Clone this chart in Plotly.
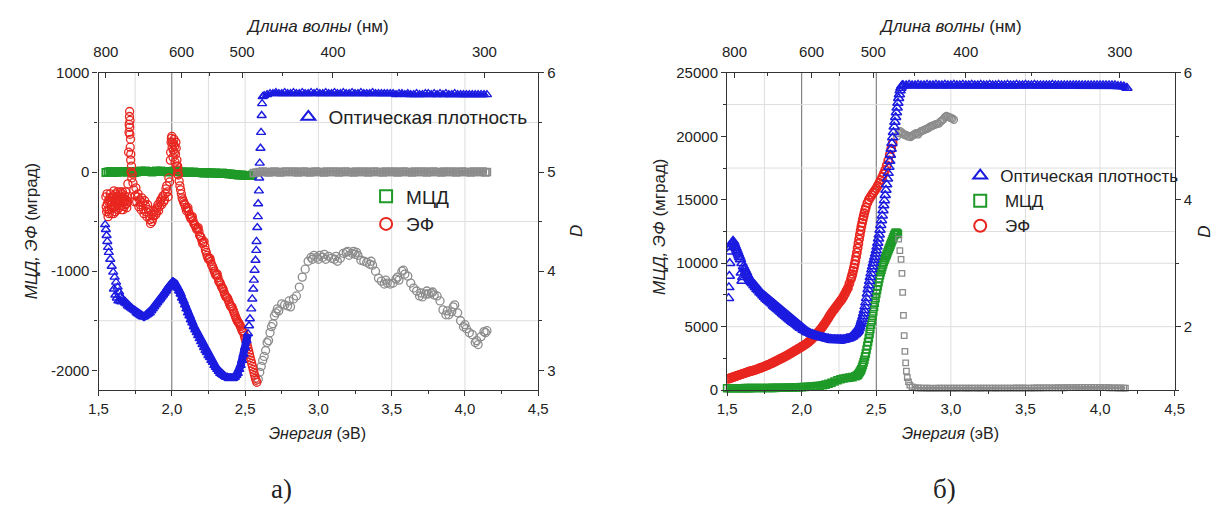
import plotly.graph_objects as go

FONT = "Liberation Sans, Arial, sans-serif"
W, H = 1224, 522

# ======================= Panel а) =======================
# optical density D (right axis): dense part, steep edge, saturated plateau
a_od_energy = [1.545, 1.55, 1.555, 1.56, 1.565, 1.57, 1.58, 1.59, 1.60, 1.605, 1.61, 1.615, 1.62, 1.625,
               1.63, 1.635, 1.64, 1.645, 1.65, 1.655, 1.66, 1.67, 1.68, 1.69, 1.70, 1.71, 1.72, 1.73,
               1.74, 1.75, 1.76, 1.77, 1.78, 1.79, 1.80, 1.81, 1.82, 1.83, 1.84, 1.85, 1.86, 1.87,
               1.88, 1.89, 1.90, 1.91, 1.92, 1.93, 1.94, 1.95, 1.96, 1.97, 1.98, 1.99, 2.00, 2.01,
               2.02, 2.03, 2.04, 2.05, 2.06, 2.07, 2.08, 2.09, 2.10, 2.11, 2.12, 2.13, 2.14, 2.15,
               2.16, 2.17, 2.18, 2.19, 2.20, 2.21, 2.22, 2.23, 2.24, 2.25, 2.26, 2.27, 2.28, 2.29,
               2.30, 2.31, 2.32, 2.33, 2.34, 2.35, 2.36, 2.37, 2.38, 2.39, 2.40, 2.41, 2.42, 2.43,
               2.44, 2.45, 2.46, 2.47, 2.48, 2.49, 2.50, 2.51, 2.52,
               2.527, 2.533, 2.542, 2.549, 2.556, 2.560, 2.565, 2.571, 2.576, 2.578, 2.583, 2.587,
               2.589, 2.594, 2.596, 2.600, 2.605, 2.609, 2.613, 2.616, 2.620,
               2.63, 2.65, 2.67, 2.69, 2.71, 2.73, 2.75, 2.77, 2.79, 2.81, 2.83, 2.85, 2.87, 2.89,
               2.91, 2.93, 2.95, 2.97, 2.99, 3.01, 3.03, 3.05, 3.07, 3.09, 3.11, 3.13, 3.15, 3.17,
               3.19, 3.21, 3.23, 3.25, 3.27, 3.29, 3.31, 3.33, 3.35, 3.37, 3.39, 3.41, 3.43, 3.45,
               3.47, 3.49, 3.51, 3.53, 3.55, 3.57, 3.59, 3.61, 3.63, 3.65, 3.67, 3.69, 3.71, 3.73,
               3.75, 3.77, 3.79, 3.81, 3.83, 3.85, 3.87, 3.89, 3.91, 3.93, 3.95, 3.97, 3.99, 4.01,
               4.03, 4.05, 4.07, 4.09, 4.11, 4.13, 4.15]
a_od_D = [4.47, 4.42, 4.36, 4.30, 4.24, 4.19, 4.12, 4.05, 3.99, 3.82, 3.94, 3.76, 3.89, 3.73,
          3.84, 3.70, 3.79, 3.70, 3.75, 3.69, 3.72, 3.70, 3.68, 3.67, 3.65, 3.64, 3.63, 3.62,
          3.61, 3.60, 3.58, 3.57, 3.56, 3.55, 3.54, 3.54, 3.55, 3.56, 3.57, 3.58, 3.60, 3.62,
          3.64, 3.66, 3.68, 3.70, 3.72, 3.74, 3.76, 3.78, 3.80, 3.83, 3.85, 3.87, 3.88, 3.89,
          3.88, 3.86, 3.83, 3.80, 3.77, 3.73, 3.70, 3.66, 3.62, 3.58, 3.55, 3.51, 3.48, 3.44,
          3.41, 3.38, 3.35, 3.32, 3.29, 3.26, 3.23, 3.20, 3.18, 3.15, 3.13, 3.10, 3.08, 3.05,
          3.03, 3.01, 2.99, 2.97, 2.96, 2.95, 2.94, 2.93, 2.93, 2.92, 2.92, 2.92, 2.92, 2.93,
          2.95, 2.97, 3.01, 3.05, 3.10, 3.16, 3.23, 3.30, 3.37,
          3.45, 3.52, 3.62, 3.72, 3.82, 3.91, 4.01, 4.11, 4.21, 4.30, 4.44, 4.55,
          4.68, 4.81, 4.94, 5.09, 5.24, 5.40, 5.57, 5.69, 5.76,
          5.77, 5.78, 5.79, 5.79, 5.80, 5.79, 5.79, 5.80, 5.79, 5.79, 5.80, 5.79, 5.79, 5.80,
          5.79, 5.79, 5.80, 5.79, 5.80, 5.79, 5.79, 5.80, 5.79, 5.79, 5.80, 5.79, 5.79, 5.80,
          5.79, 5.79, 5.80, 5.79, 5.79, 5.80, 5.79, 5.79, 5.79, 5.80, 5.79, 5.79, 5.79, 5.79,
          5.79, 5.79, 5.79, 5.78, 5.79, 5.79, 5.78, 5.79, 5.78, 5.78, 5.79, 5.78, 5.78, 5.79,
          5.79, 5.78, 5.79, 5.78, 5.79, 5.78, 5.79, 5.78, 5.78, 5.79, 5.78, 5.78, 5.78, 5.78,
          5.78, 5.78, 5.78, 5.78, 5.78, 5.78, 5.78]

# MCD (left axis, mdeg): reliable part (green) and unreliable part (grey)
a_mcd_energy = [1.55, 1.565, 1.58, 1.595, 1.61, 1.625, 1.64, 1.655, 1.67, 1.685, 1.70, 1.715, 1.73,
                1.745, 1.76, 1.775, 1.79, 1.805, 1.82, 1.835, 1.85, 1.865, 1.88, 1.895, 1.91, 1.925,
                1.94, 1.955, 1.97, 1.985, 2.00, 2.015, 2.03, 2.045, 2.06, 2.075, 2.09, 2.105, 2.12,
                2.135, 2.15, 2.165, 2.18, 2.195, 2.21, 2.225, 2.24, 2.255, 2.27, 2.285, 2.30, 2.315,
                2.33, 2.345, 2.36, 2.375, 2.39, 2.405, 2.42, 2.435, 2.45, 2.465, 2.48, 2.495, 2.51,
                2.525, 2.54, 2.55]
a_mcd_val = [-5, 0, 5, 0, -5, 0, 5, 0, 0, 5, 0, 5, 0, -5, 0, 5, 10, 5, 10, 5, 5, 0, 5, 10, 5, 10,
             5, 5, 0, 5, 5, 10, 5, 5, 0, 0, 0, -5, 0, -5, 0, -5, -5, -5, -10, -10, -5, -10, -10,
             -10, -10, -15, -15, -10, -15, -15, -20, -20, -25, -25, -30, -30, -30, -35, -35, -35,
             -35, -30]
a_mcd_grey_energy = [2.56, 2.58, 2.60, 2.62, 2.64, 2.66, 2.68, 2.70, 2.72, 2.74, 2.76, 2.78, 2.80,
                     2.82, 2.84, 2.86, 2.88, 2.90, 2.92, 2.94, 2.96, 2.98, 3.00, 3.02, 3.04, 3.06,
                     3.08, 3.10, 3.12, 3.14, 3.16, 3.18, 3.20, 3.22, 3.24, 3.26, 3.28, 3.30, 3.32,
                     3.34, 3.36, 3.38, 3.40, 3.42, 3.44, 3.46, 3.48, 3.50, 3.52, 3.54, 3.56, 3.58,
                     3.60, 3.62, 3.64, 3.66, 3.68, 3.70, 3.72, 3.74, 3.76, 3.78, 3.80, 3.82, 3.84,
                     3.86, 3.88, 3.90, 3.92, 3.94, 3.96, 3.98, 4.00, 4.02, 4.04, 4.06, 4.08, 4.10,
                     4.12, 4.14, 4.15]
a_mcd_grey_val = [-10, -5, 0, 5, 0, -5, 0, 5, 0, -5, 0, 5, 0, 0, 5, -5, 0, 5, 0, -5, 0, 5, 0, 0,
                  -5, 5, 0, 0, 5, -5, 0, 5, 0, 0, -5, 5, 0, 0, 5, -5, 0, 5, 0, 0, -5, 5, 0, 0, 5,
                  -5, 0, 5, 0, 0, -5, 5, 0, 0, 5, -5, 0, 5, 0, 0, -5, 5, 0, 0, 5, -5, 0, 5, 0, 0,
                  -5, 5, 0, 0, 5, -5, 0]

# Faraday effect ЭФ (left axis, mdeg)
a_ef_energy = [1.55, 1.552, 1.555, 1.558, 1.56, 1.563, 1.565, 1.568, 1.57, 1.573, 1.575, 1.578, 1.58,
               1.583, 1.585, 1.588, 1.59, 1.593, 1.595, 1.598, 1.60, 1.603, 1.605, 1.608, 1.61, 1.613,
               1.615, 1.618, 1.62, 1.623, 1.625, 1.628, 1.63, 1.633, 1.635, 1.638, 1.64, 1.643, 1.645,
               1.648, 1.65, 1.653, 1.655, 1.658, 1.66, 1.663, 1.665, 1.668, 1.67, 1.673, 1.675, 1.678,
               1.68, 1.683, 1.685, 1.688, 1.69, 1.693, 1.695, 1.698, 1.70, 1.705, 1.708, 1.709, 1.711,
               1.712, 1.713, 1.714, 1.715, 1.716, 1.718, 1.719, 1.72, 1.722, 1.725, 1.727, 1.73, 1.735,
               1.74, 1.745, 1.75, 1.755, 1.76, 1.765, 1.77, 1.775, 1.78, 1.785, 1.79, 1.795, 1.80,
               1.805, 1.81, 1.815, 1.82, 1.825, 1.83, 1.835, 1.84, 1.845, 1.85, 1.855, 1.86, 1.865,
               1.87, 1.875, 1.88, 1.885, 1.89, 1.895, 1.90, 1.905, 1.91, 1.915, 1.92, 1.925, 1.93,
               1.935, 1.94, 1.945, 1.95, 1.955, 1.96, 1.965, 1.97, 1.975, 1.98, 1.985, 1.99, 1.992,
               1.995, 1.997, 2.00, 2.002, 2.005, 2.008, 2.01, 2.012, 2.015, 2.018, 2.02, 2.022, 2.025,
               2.028, 2.03, 2.033, 2.035, 2.038, 2.04, 2.042, 2.045, 2.05, 2.055, 2.06, 2.065, 2.07,
               2.075, 2.08, 2.085, 2.09, 2.095, 2.10, 2.105, 2.11, 2.115, 2.12, 2.125, 2.13, 2.135,
               2.14, 2.145, 2.15, 2.155, 2.16, 2.165, 2.17, 2.175, 2.18, 2.185, 2.19, 2.195, 2.20,
               2.205, 2.21, 2.215, 2.22, 2.225, 2.23, 2.235, 2.24, 2.245, 2.25, 2.255, 2.26, 2.265,
               2.27, 2.275, 2.28, 2.285, 2.29, 2.295, 2.30, 2.305, 2.31, 2.315, 2.32, 2.325, 2.33,
               2.335, 2.34, 2.345, 2.35, 2.355, 2.36, 2.365, 2.37, 2.375, 2.38, 2.385, 2.39, 2.395,
               2.40, 2.405, 2.41, 2.415, 2.42, 2.425, 2.43, 2.435, 2.44, 2.445, 2.45, 2.455, 2.46,
               2.465, 2.47, 2.475, 2.48, 2.485, 2.49, 2.495, 2.50, 2.505, 2.51, 2.515, 2.52, 2.525,
               2.53, 2.535, 2.54, 2.545, 2.55, 2.555, 2.56, 2.565, 2.57, 2.575, 2.58]
a_ef_val = [-250, -350, -400, -220, -320, -380, -450, -300, -280, -420, -380, -260, -220,
            -300, -330, -370, -420, -300, -260, -240, -350, -420, -190, -280, -300, -350,
            -400, -220, -250, -290, -330, -380, -200, -250, -280, -320, -360, -290, -240,
            -200, -300, -340, -380, -260, -220, -200, -310, -380, -260, -300, -350, -240,
            -290, -330, -200, -280, -320, -360, -250, -300, -120, 200, 400, 480, 560,
            610, 450, 380, 520, 250, 330, 120, 180, 0, 60, -60, -20, -110,
            -180, -300, -240, -160, -300, -250, -220, -350, -280, -330, -380, -260, -310,
            -370, -420, -290, -340, -400, -450, -330, -380, -440, -480, -520, -430, -500,
            -470, -440, -400, -380, -430, -410, -360, -330, -390, -350, -300, -280, -330,
            -260, -240, -300, -280, -220, -170, -140, -200, -250, -60, -100, 120, 200,
            300, 340, 360, 250, 300, 150, 220, 280, 330, 200, 260, 100, 180,
            300, 240, 60, 120, -20, 60, 20, -30, -90, -140, -180, -220, -260,
            -280, -300, -320, -330, -360, -390, -370, -360, -400, -430, -450, -470, -460,
            -450, -490, -520, -530, -540, -560, -580, -570, -560, -600, -640, -650, -660,
            -690, -720, -710, -700, -750, -790, -810, -840, -860, -880, -875, -870, -900,
            -930, -945, -960, -980, -1000, -1020, -1040, -1035, -1030, -1065, -1100, -1110, -1120,
            -1140, -1160, -1170, -1180, -1205, -1230, -1245, -1260, -1265, -1270, -1290, -1310, -1330,
            -1350, -1355, -1360, -1380, -1400, -1420, -1440, -1460, -1480, -1495, -1510, -1520, -1530,
            -1545, -1560, -1580, -1600, -1610, -1620, -1650, -1680, -1700, -1720, -1750, -1780, -1810,
            -1840, -1870, -1900, -1930, -1960, -1990, -2020, -2050, -2080, -2100, -2120]
a_ef_grey_energy = [2.59, 2.60, 2.61, 2.62, 2.63, 2.64, 2.65, 2.66, 2.67, 2.68, 2.69, 2.70, 2.71,
                    2.72, 2.73, 2.75, 2.77, 2.79, 2.80, 2.81, 2.83, 2.85, 2.87, 2.89, 2.91, 2.93,
                    2.95, 2.96, 2.97, 2.99, 3.00, 3.01, 3.03, 3.04, 3.05, 3.07, 3.09, 3.11, 3.12,
                    3.13, 3.15, 3.17, 3.19, 3.20, 3.21, 3.23, 3.24, 3.25, 3.26, 3.27, 3.29, 3.31,
                    3.33, 3.35, 3.36, 3.37, 3.39, 3.41, 3.43, 3.45, 3.46, 3.47, 3.49, 3.51, 3.53,
                    3.54, 3.55, 3.57, 3.58, 3.59, 3.61, 3.63, 3.65, 3.67, 3.69, 3.70, 3.71, 3.73,
                    3.74, 3.75, 3.77, 3.78, 3.79, 3.81, 3.83, 3.85, 3.87, 3.88, 3.89, 3.91, 3.92,
                    3.93, 3.95, 3.97, 3.99, 4.00, 4.01, 4.03, 4.05, 4.07, 4.08, 4.09, 4.11, 4.13,
                    4.14, 4.15]
a_ef_grey_val = [-2090, -2020, -1960, -1900, -1860, -1800, -1720, -1700, -1620, -1560, -1530, -1450,
                 -1420, -1380, -1400, -1330, -1340, -1350, -1300, -1360, -1280, -1250, -1160, -1060,
                 -980, -900, -860, -880, -840, -860, -880, -840, -860, -830, -880, -850, -870, -880,
                 -850, -900, -870, -820, -810, -800, -840, -820, -800, -830, -810, -840, -890, -900,
                 -910, -930, -900, -940, -1000, -1070, -1100, -1130, -1090, -1120, -1130, -1120,
                 -1080, -1060, -1090, -1000, -990, -1030, -1050, -1120, -1170, -1200, -1250, -1220,
                 -1260, -1230, -1200, -1230, -1220, -1210, -1240, -1250, -1300, -1390, -1440, -1400,
                 -1440, -1410, -1360, -1340, -1420, -1500, -1560, -1540, -1580, -1620, -1640, -1720,
                 -1700, -1740, -1660, -1610, -1620, -1600]

# ======================= Panel б) =======================
b_od_energy = [1.510, 1.512, 1.515, 1.518, 1.52, 1.525, 1.53, 1.535, 1.54, 1.545, 1.55, 1.555, 1.56,
               1.565, 1.57, 1.575, 1.58, 1.585, 1.59, 1.595, 1.60, 1.60, 1.605, 1.61, 1.615, 1.62,
               1.625, 1.63, 1.635, 1.64, 1.645, 1.65, 1.655, 1.66, 1.665, 1.67, 1.68, 1.69, 1.70,
               1.71, 1.72, 1.73, 1.74, 1.75, 1.76, 1.77, 1.78, 1.79, 1.80, 1.81, 1.82, 1.83, 1.84,
               1.85, 1.86, 1.87, 1.88, 1.89, 1.90, 1.91, 1.92, 1.93, 1.94, 1.95, 1.96, 1.97, 1.98,
               1.99, 2.00, 2.01, 2.02, 2.03, 2.04, 2.05, 2.06, 2.07, 2.08, 2.09, 2.10, 2.11, 2.12,
               2.13, 2.14, 2.15, 2.16, 2.17, 2.18, 2.19, 2.20, 2.21, 2.22, 2.23, 2.24, 2.25, 2.26,
               2.27, 2.28, 2.29, 2.30, 2.31, 2.32, 2.33, 2.34, 2.35,
               2.36, 2.365, 2.37, 2.375, 2.38, 2.385, 2.39, 2.395, 2.40, 2.405, 2.41, 2.415, 2.42,
               2.425, 2.43, 2.435, 2.44, 2.445, 2.45, 2.455, 2.46, 2.465, 2.47, 2.475, 2.48, 2.485,
               2.49, 2.495, 2.50, 2.505, 2.51, 2.515, 2.52, 2.525, 2.53, 2.535, 2.54, 2.545, 2.55,
               2.555, 2.56, 2.565, 2.57, 2.575, 2.58, 2.585, 2.59, 2.595, 2.60, 2.605, 2.61, 2.615,
               2.62, 2.625, 2.63, 2.635, 2.64, 2.645, 2.65, 2.655, 2.66, 2.665, 2.67, 2.675,
               2.68, 2.70, 2.72, 2.74, 2.76, 2.78, 2.80, 2.82, 2.84, 2.86, 2.88, 2.90, 2.92, 2.94,
               2.96, 2.98, 3.00, 3.02, 3.04, 3.06, 3.08, 3.10, 3.12, 3.14, 3.16, 3.18, 3.20, 3.22,
               3.24, 3.26, 3.28, 3.30, 3.32, 3.34, 3.36, 3.38, 3.40, 3.42, 3.44, 3.46, 3.48, 3.50,
               3.52, 3.54, 3.56, 3.58, 3.60, 3.62, 3.64, 3.66, 3.68, 3.70, 3.72, 3.74, 3.76, 3.78,
               3.80, 3.82, 3.84, 3.86, 3.88, 3.90, 3.92, 3.94, 3.96, 3.98, 4.00, 4.02, 4.04, 4.06,
               4.08, 4.10, 4.12, 4.14, 4.16, 4.18]
b_od_D = [2.45, 2.62, 2.80, 3.00, 3.18, 3.25, 3.30, 3.33, 3.35, 3.33, 3.30, 3.27, 3.24,
          3.21, 3.18, 3.15, 3.12, 3.09, 3.06, 2.85, 3.00, 2.72, 2.78, 2.95, 2.92, 2.90,
          2.87, 2.85, 2.82, 2.80, 2.77, 2.75, 2.73, 2.71, 2.70, 2.68, 2.65, 2.62, 2.59,
          2.57, 2.54, 2.52, 2.49, 2.47, 2.44, 2.42, 2.40, 2.38, 2.36, 2.33, 2.31, 2.29, 2.27,
          2.25, 2.23, 2.21, 2.19, 2.17, 2.15, 2.13, 2.11, 2.09, 2.07, 2.06, 2.04, 2.02, 2.00,
          1.98, 1.97, 1.95, 1.94, 1.92, 1.91, 1.90, 1.89, 1.88, 1.87, 1.86, 1.85, 1.845, 1.84,
          1.835, 1.83, 1.825, 1.82, 1.815, 1.81, 1.805, 1.80, 1.80, 1.80, 1.80, 1.80, 1.80, 1.80,
          1.80, 1.80, 1.80, 1.81, 1.815, 1.82, 1.83, 1.84, 1.86,
          1.88, 1.895, 1.91, 1.925, 1.94, 1.97, 2.00, 2.04, 2.08, 2.12, 2.16, 2.21, 2.26,
          2.32, 2.38, 2.45, 2.52, 2.585, 2.65, 2.715, 2.78, 2.84, 2.90, 2.95, 3.00, 3.05,
          3.10, 3.15, 3.20, 3.26, 3.32, 3.385, 3.45, 3.525, 3.60, 3.675, 3.75, 3.83, 3.91,
          3.99, 4.07, 4.155, 4.24, 4.33, 4.42, 4.515, 4.61, 4.705, 4.80, 4.89, 4.98, 5.065,
          5.15, 5.225, 5.30, 5.375, 5.45, 5.525, 5.60, 5.66, 5.72, 5.76, 5.79, 5.80,
          5.80, 5.80, 5.81, 5.80, 5.80, 5.81, 5.80, 5.80, 5.81, 5.80, 5.80, 5.81, 5.80, 5.80,
          5.81, 5.80, 5.80, 5.81, 5.80, 5.80, 5.81, 5.80, 5.80, 5.81, 5.80, 5.80, 5.81, 5.80,
          5.80, 5.81, 5.80, 5.80, 5.81, 5.80, 5.80, 5.81, 5.80, 5.80, 5.81, 5.80, 5.80, 5.81,
          5.80, 5.80, 5.81, 5.80, 5.80, 5.80, 5.80, 5.80, 5.81, 5.80, 5.80, 5.80, 5.80, 5.80,
          5.80, 5.80, 5.80, 5.80, 5.80, 5.80, 5.80, 5.80, 5.80, 5.80, 5.80, 5.80, 5.80, 5.80,
          5.80, 5.80, 5.79, 5.79, 5.78, 5.76]

b_mcd_energy = [1.50, 1.52, 1.54, 1.56, 1.58, 1.60, 1.62, 1.64, 1.66, 1.68, 1.70, 1.72, 1.74, 1.76,
                1.78, 1.80, 1.82, 1.84, 1.86, 1.88, 1.90, 1.92, 1.94, 1.96, 1.98, 2.00, 2.02, 2.04,
                2.06, 2.08, 2.10, 2.12, 2.14, 2.16, 2.18, 2.20, 2.22, 2.24, 2.26, 2.28, 2.30, 2.32,
                2.34, 2.36, 2.37, 2.375, 2.38, 2.385, 2.39, 2.395, 2.40, 2.405, 2.41, 2.415, 2.42,
                2.425, 2.43, 2.435, 2.44, 2.445, 2.45, 2.455, 2.46, 2.465, 2.47, 2.475, 2.48, 2.485,
                2.49, 2.495, 2.50, 2.505, 2.51, 2.515, 2.52, 2.525, 2.53, 2.535, 2.54, 2.545, 2.55,
                2.555, 2.56, 2.565, 2.57, 2.575, 2.58, 2.585, 2.59, 2.595, 2.60, 2.605, 2.61, 2.615,
                2.62, 2.625, 2.63, 2.635, 2.64, 2.645]
b_mcd_val = [150, 150, 150, 150, 155, 155, 160, 160, 160, 165, 165, 170, 170, 175,
             175, 180, 180, 185, 190, 195, 200, 205, 210, 220, 230, 240, 250, 265,
             280, 300, 320, 350, 390, 440, 500, 580, 680, 780, 860, 920, 960, 990,
             1030, 1100, 1150, 1200, 1250, 1350, 1450, 1550, 1650, 1820, 2000, 2200, 2400,
             2650, 2900, 3200, 3500, 3800, 4100, 4450, 4800, 5150, 5500, 5850, 6200, 6550,
             6900, 7250, 7600, 7900, 8200, 8500, 8800, 9050, 9300, 9500, 9700, 9900, 10100,
             10250, 10400, 10550, 10700, 10850, 11000, 11150, 11300, 11450, 11600, 11750, 11900, 12050,
             12200, 12300, 12400, 12400, 12350, 12300]
b_mcd_grey_energy = [2.650, 2.658, 2.666, 2.672, 2.677, 2.682, 2.687, 2.692, 2.697, 2.702, 2.708,
                     2.716, 2.725, 2.74, 2.76, 2.78, 2.80, 2.82, 2.84, 2.86, 2.88, 2.90, 2.92, 2.94,
                     2.96, 2.98, 3.00, 3.02, 3.04, 3.06, 3.08, 3.10, 3.12, 3.14, 3.16, 3.18, 3.20,
                     3.22, 3.24, 3.26, 3.28, 3.30, 3.32, 3.34, 3.36, 3.38, 3.40, 3.42, 3.44, 3.46,
                     3.48, 3.50, 3.52, 3.54, 3.56, 3.58, 3.60, 3.62, 3.64, 3.66, 3.68, 3.70, 3.72,
                     3.74, 3.76, 3.78, 3.80, 3.82, 3.84, 3.86, 3.88, 3.90, 3.92, 3.94, 3.96, 3.98,
                     4.00, 4.02, 4.04, 4.06, 4.08, 4.10, 4.12, 4.14, 4.16, 4.17]
b_mcd_grey_val = [11900, 11000, 10300, 9200, 7700, 5900, 4300, 3050, 2150, 1500, 1000,
                  650, 400, 260, 200, 170, 160, 155, 150, 150, 145, 150, 150, 155, 150, 150,
                  155, 150, 150, 155, 160, 150, 150, 155, 160, 150, 150, 155, 160, 160, 155,
                  150, 160, 165, 160, 155, 160, 165, 170, 165, 170, 165, 160, 165, 170, 175,
                  170, 175, 180, 175, 180, 185, 190, 185, 190, 195, 200, 205, 210, 220, 225,
                  220, 215, 220, 225, 215, 210, 200, 195, 190, 180, 175, 170, 170, 165, 165]

b_ef_energy = [1.51, 1.52, 1.53, 1.54, 1.55, 1.56, 1.57, 1.58, 1.59, 1.60, 1.61, 1.62, 1.63, 1.64,
               1.65, 1.66, 1.67, 1.68, 1.69, 1.70, 1.71, 1.72, 1.73, 1.74, 1.75, 1.76, 1.77, 1.78,
               1.79, 1.80, 1.81, 1.82, 1.83, 1.84, 1.85, 1.86, 1.87, 1.88, 1.89, 1.90, 1.91, 1.92,
               1.93, 1.94, 1.95, 1.96, 1.97, 1.98, 1.99, 2.00, 2.01, 2.02, 2.03, 2.04, 2.05, 2.06,
               2.07, 2.08, 2.09, 2.10, 2.11, 2.12, 2.13, 2.14, 2.15, 2.16, 2.17, 2.18, 2.19, 2.20,
               2.21, 2.22, 2.23, 2.24, 2.25, 2.26, 2.27, 2.28, 2.29, 2.30, 2.31, 2.32, 2.33, 2.335,
               2.34, 2.345, 2.35, 2.355, 2.36, 2.365, 2.37, 2.375, 2.38, 2.385, 2.39, 2.395, 2.40,
               2.405, 2.41, 2.415, 2.42, 2.425, 2.43, 2.44, 2.45, 2.46, 2.47, 2.48, 2.49, 2.50,
               2.51, 2.52, 2.53, 2.54, 2.55, 2.56, 2.57, 2.58, 2.59, 2.60, 2.61]
b_ef_val = [900, 940, 980, 1020, 1060, 1100, 1150, 1190, 1230, 1270, 1310, 1350, 1390, 1430,
            1470, 1500, 1530, 1560, 1600, 1640, 1690, 1730, 1780, 1820, 1870, 1920, 1970, 2020,
            2070, 2120, 2180, 2240, 2300, 2360, 2420, 2480, 2540, 2600, 2660, 2720, 2790, 2860,
            2930, 3000, 3070, 3140, 3210, 3280, 3350, 3420, 3490, 3570, 3650, 3740, 3830, 3930,
            4040, 4160, 4290, 4420, 4560, 4700, 4850, 5000, 5170, 5340, 5520, 5710, 5900, 6080,
            6250, 6400, 6560, 6720, 6880, 7030, 7180, 7380, 7600, 7830, 8050, 8400, 8750, 8950,
            9150, 9400, 9650, 9920, 10200, 10520, 10850, 11200, 11550, 11900, 12250, 12580, 12900,
            13180, 13450, 13700, 13950, 14180, 14400, 14750, 15000, 15200, 15380, 15550, 15720, 15900,
            16100, 16320, 16550, 16800, 17050, 17350, 17700, 18100, 18550, 19000, 19450]
b_ef_grey_energy = [2.64, 2.65, 2.66, 2.67, 2.68, 2.69, 2.70, 2.71, 2.72, 2.73, 2.74, 2.75, 2.76,
                    2.77, 2.78, 2.79, 2.80, 2.81, 2.82, 2.83, 2.84, 2.85, 2.86, 2.87, 2.88, 2.89,
                    2.90, 2.91, 2.92, 2.93, 2.94, 2.95, 2.96, 2.97, 2.98, 2.99, 3.00, 3.01, 3.02]
b_ef_grey_val = [20000, 20250, 20400, 20300, 20200, 20100, 20100, 20000, 20000, 19950, 20050, 20100,
                 20200, 20250, 20150, 20300, 20400, 20450, 20500, 20550, 20600, 20650, 20750, 20800,
                 20850, 20900, 20950, 21000, 21000, 21150, 21250, 21350, 21500, 21600, 21550, 21500,
                 21450, 21400, 21300]

# ======================= axes ticks =======================
energy_ticks = [1.5, 2.0, 2.5, 3.0, 3.5, 4.0, 4.5]
energy_ticktext = ["1,5", "2,0", "2,5", "3,0", "3,5", "4,0", "4,5"]
energy_minor = [1.75, 2.25, 2.75, 3.25, 3.75, 4.25]
wavelength_ticks = [800, 600, 500, 400, 300]
wavelength_minor = [700, 550, 450, 350]
a_left_ticks = [-2000, -1000, 0, 1000]
a_left_minor = [-1500, -500, 500]
a_right_ticks = [3, 4, 5, 6]
a_right_minor = [3.5, 4.5, 5.5]
b_left_ticks = [0, 5000, 10000, 15000, 20000, 25000]
b_left_minor = [2500, 7500, 12500, 17500, 22500]
b_right_ticks = [2, 4, 6]
b_right_minor = [1, 3, 5]

HC = 1239.84  # eV*nm, photon energy <-> wavelength


def wl_to_e(w):
    return HC / w


BLUE = "#1b1be0"
RED = "#e8261f"
GREEN = "#1f9a28"
GREY = "#8c8c8c"
TXT = "#222222"

fig = go.Figure()


def sc(x, y, xa, ya, symbol, color, size, name=None, legend=None, lw=1.2, clip=True):
    fig.add_trace(go.Scatter(
        x=x, y=y, xaxis=xa, yaxis=ya, mode="markers",
        marker=dict(symbol=symbol, size=size, color=color, line=dict(color=color, width=lw)),
        name=name or "", showlegend=name is not None, legend=legend, cliponaxis=clip))


def band(x, y, xa, ya, color, width):
    # solid body of very densely measured stretches (markers merge into a band there)
    fig.add_trace(go.Scatter(x=x, y=y, xaxis=xa, yaxis=ya, mode="lines", showlegend=False,
                             line=dict(color=color, width=width), hoverinfo="skip"))


def upto(xs, ys, hi):
    return [a for a in xs if a <= hi], [b for a, b in zip(xs, ys) if a <= hi]


def between(xs, ys, lo, hi):
    return ([a for a in xs if lo <= a <= hi], [b for a, b in zip(xs, ys) if lo <= a <= hi])


# ---- panel a ----
band(a_mcd_grey_energy, a_mcd_grey_val, "x2", "y", GREY, 4)
sc(a_mcd_grey_energy, a_mcd_grey_val, "x2", "y", "square-open", GREY, 7, lw=1.6)
sc(a_ef_grey_energy, a_ef_grey_val, "x", "y", "circle-open", GREY, 8, lw=1.3)
band(a_mcd_energy, a_mcd_val, "x", "y", GREEN, 5)
sc(a_mcd_energy, a_mcd_val, "x", "y", "square-open", GREEN, 7, name="МЦД", legend="legend2", lw=1.8)
sc(a_ef_energy, a_ef_val, "x", "y", "circle-open", RED, 8, name="ЭФ", legend="legend2", lw=1.3)
band(*between(a_od_energy, a_od_D, 1.66, 2.52), "x", "y2", BLUE, 8)
band(*between(a_od_energy, a_od_D, 2.63, 4.2), "x", "y2", BLUE, 5)
sc(a_od_energy, a_od_D, "x", "y2", "triangle-up-open", BLUE, 8, name="Оптическая плотность",
   legend="legend", lw=1.4)

# ---- panel b ----
band(*between(b_mcd_grey_energy, b_mcd_grey_val, 2.74, 4.2), "x4", "y3", GREY, 3)
sc(b_mcd_grey_energy, b_mcd_grey_val, "x4", "y3", "square-open", GREY, 5.5, lw=1.3, clip=False)
sc(b_ef_grey_energy, b_ef_grey_val, "x3", "y3", "circle-open", GREY, 7, lw=1.4)
band(*upto(b_mcd_energy, b_mcd_val, 2.40), "x3", "y3", GREEN, 5)
sc(b_mcd_energy, b_mcd_val, "x3", "y3", "square-open", GREEN, 7, name="\u00a0МЦД", legend="legend3",
   lw=1.6, clip=False)
band(*upto(b_ef_energy, b_ef_val, 2.33), "x3", "y3", RED, 6)
sc(b_ef_energy, b_ef_val, "x3", "y3", "circle-open", RED, 8, name="\u00a0ЭФ", legend="legend3", lw=1.8)
band(*between(b_od_energy, b_od_D, 1.66, 2.40), "x3", "y4", BLUE, 9)
band(*between(b_od_energy, b_od_D, 2.68, 4.2), "x3", "y4", BLUE, 6)
sc(b_od_energy, b_od_D, "x3", "y4", "triangle-up-open", BLUE, 9, name="Оптическая плотность",
   legend="legend3", lw=1.5)

for tr in fig.data:
    if tr.legend == "legend3" and tr.showlegend:
        tr.legendrank = {"Оптическая плотность": 1, "\u00a0МЦД": 2, "\u00a0ЭФ": 3}[tr.name]

XA = (90 / W, 537 / W)
XB = (729 / W, 1184 / W)
YD = (1 - 394 / H, 1 - 66 / H)

axis_common = dict(showline=True, linecolor="#333333", linewidth=1.2, showgrid=False, zeroline=False,
                   tickfont=dict(family=FONT, size=15, color=TXT), tickcolor="#333333",
                   ticklen=5, tickwidth=1.2)


def xbottom(domain, anchor):
    return dict(domain=domain, anchor=anchor, range=[1.5, 4.5], tickmode="array", tickvals=energy_ticks,
                ticktext=energy_ticktext, ticks="outside",
                minor=dict(tickmode="array", tickvals=energy_minor, ticks="outside", ticklen=3,
                           tickcolor="#333333"),
                **axis_common)


def xtop(over, anchor):
    return dict(overlaying=over, anchor=anchor, side="top", range=[1.5, 4.5], tickmode="array",
                tickvals=[wl_to_e(w) for w in wavelength_ticks], ticktext=[str(w) for w in wavelength_ticks],
                ticks="inside", ticklabelstandoff=9,
                minor=dict(tickmode="array", tickvals=[wl_to_e(w) for w in wavelength_minor], ticks="inside",
                           ticklen=3, tickcolor="#333333"),
                **axis_common)


def yleft(domain, anchor, rng, tv, mv):
    return dict(domain=domain, anchor=anchor, range=rng, tickmode="array", tickvals=tv,
                ticktext=[str(v) for v in tv], ticks="outside",
                minor=dict(tickmode="array", tickvals=mv, ticks="outside", ticklen=3, tickcolor="#333333"),
                **axis_common)


def yright(over, anchor, rng, tv, mv):
    return dict(overlaying=over, anchor=anchor, side="right", range=rng, tickmode="array", tickvals=tv,
                ticktext=[str(v) for v in tv], ticks="outside",
                minor=dict(tickmode="array", tickvals=mv, ticks="outside", ticklen=3, tickcolor="#333333"),
                **axis_common)


fig.update_layout(
    width=W, height=H, margin=dict(l=0, r=0, t=0, b=0),
    paper_bgcolor="white", plot_bgcolor="white",
    font=dict(family=FONT, color=TXT),
    xaxis=xbottom(XA, "y"),
    xaxis2=xtop("x", "y"),
    yaxis=yleft(YD, "x", [-2200, 1000], a_left_ticks, a_left_minor),
    yaxis2=yright("y", "x", [2.8, 6], a_right_ticks, a_right_minor),
    xaxis3=xbottom(XB, "y3"),
    xaxis4=xtop("x3", "y3"),
    yaxis3=yleft(YD, "x3", [0, 25000], b_left_ticks, b_left_minor),
    yaxis4=yright("y3", "x3", [1, 6], b_right_ticks, b_right_minor),
    legend=dict(x=283 / W, y=1 - 92 / H, xanchor="left", yanchor="top", bgcolor="rgba(0,0,0,0)",
                font=dict(family=FONT, size=19, color=TXT), itemsizing="constant"),
    legend2=dict(x=362 / W, y=1 - 174 / H, xanchor="left", yanchor="top", bgcolor="rgba(0,0,0,0)",
                 font=dict(family=FONT, size=19, color=TXT), itemsizing="constant", tracegroupgap=0),
    legend3=dict(x=966 / W, y=1 - 154 / H, xanchor="left", yanchor="top", bgcolor="rgba(0,0,0,0)",
                 font=dict(family=FONT, size=17, color=TXT), itemsizing="constant"),
)

# grid lines (light grey) and darker reference lines
shapes = []


def vline(xref, yref, x, color, width=1):
    shapes.append(dict(type="line", xref=xref, yref=yref + " domain", x0=x, x1=x, y0=0, y1=1,
                       line=dict(color=color, width=width), layer="below"))


def hline(xref, yref, y, color, width=1):
    shapes.append(dict(type="line", xref=xref + " domain", yref=yref, x0=0, x1=1, y0=y, y1=y,
                       line=dict(color=color, width=width), layer="below"))


LIGHT = "#dedede"
DARK = "#6a6a6a"
for xv in [1.75, 2.25, 2.5, 3.0, 3.5, 4.0]:
    vline("x", "y", xv, LIGHT)
vline("x", "y", 2.0, DARK)
for yv in [500, -500, -1500]:
    hline("x", "y", yv, LIGHT)
for xv in [1.75, 2.25, 3.0, 3.5, 4.0]:
    vline("x3", "y3", xv, LIGHT)
vline("x3", "y3", 2.0, DARK)
vline("x3", "y3", 2.5, DARK)
for yv in [22500, 17500, 12500, 10000, 5000]:
    hline("x3", "y3", yv, LIGHT)
fig.update_layout(shapes=shapes)

# titles as annotations
ann = []


def text(x, y, t, size=16, angle=0, family=FONT):
    ann.append(dict(x=x / W, y=1 - y / H, xref="paper", yref="paper", text=t, showarrow=False,
                    xanchor="center", yanchor="middle", textangle=angle,
                    font=dict(family=family, size=size, color=TXT)))


for cx in [313, 956]:
    text(cx, 18, "<i>Длина волны</i> (нм)", 17)
    text(cx, 439, "<i>Энергия</i> (эВ)", 16)
text(22, 230, "<i>МЦД, ЭФ</i> (мград)", 17, -90)
text(660, 225, "<i>МЦД, ЭФ</i> (мград)", 17, -90)
text(576, 230, "<i>D</i>", 17, -90)
text(1214, 230, "<i>D</i>", 17, -90)
text(276, 496, "а)", 27, 0, "Liberation Serif, Times New Roman, serif")
text(950, 496, "б)", 27, 0, "Liberation Serif, Times New Roman, serif")
fig.update_layout(annotations=ann)

fig.write_html("out.html")
